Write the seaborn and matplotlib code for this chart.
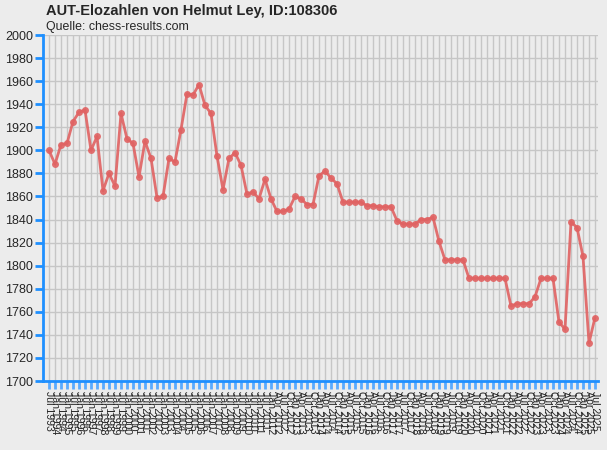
from matplotlib import pyplot as plt
import seaborn as sns
import pandas as pd

# list dates: half-yearly until 2011, quarterly from 2012
dates = []
for year in range(1993, 2012):
    if year > 1993:
        dates.append(f'Jan {year}')
    dates.append(f'Jul {year}')
for year in range(2012, 2026):
    for m in ['Jan', 'Apr', 'Jul', 'Oct']:
        if year == 2025 and m == 'Oct':
            break
        dates.append(f'{m} {year}')

elo = [1900, 1888, 1905, 1906, 1925, 1933, 1935, 1900, 1912, 1865,
       1880, 1869, 1932, 1910, 1906, 1877, 1908, 1893, 1859, 1860,
       1893, 1890, 1918, 1949, 1948, 1957, 1939, 1932, 1895, 1866,
       1893, 1898, 1887, 1862, 1864, 1858, 1875, 1858, 1847, 1847,
       1849, 1860, 1858, 1853, 1853, 1878, 1882, 1876, 1871, 1855,
       1855, 1855, 1855, 1852, 1852, 1851, 1851, 1851, 1839, 1836,
       1836, 1836, 1840, 1840, 1842, 1821, 1805, 1805, 1805, 1805,
       1789, 1789, 1789, 1789, 1789, 1789, 1789, 1765, 1767, 1767,
       1767, 1773, 1789, 1789, 1789, 1751, 1745, 1838, 1833, 1808,
       1733, 1755]

df = pd.DataFrame({'idx': range(len(elo)), 'elo': elo})

bg = '#ececec'
blue = '#1e8fff'
sns.set_style('whitegrid', {'axes.facecolor': bg, 'figure.facecolor': bg,
                            'grid.color': '#c6c6c6'})
plt.rcParams['font.family'] = ['Liberation Sans', 'DejaVu Sans']

fig = plt.figure(figsize=(6.07, 4.5), dpi=100)
ax = fig.add_axes([43 / 607, 1 - 381 / 450, 555 / 607, 346 / 450])

sns.lineplot(data=df, x='idx', y='elo', ax=ax, color='#e06262', linewidth=2,
             marker='o', markersize=5, markeredgewidth=0, alpha=0.9)

ax.set_xlim(-1, 91.5)
ax.set_ylim(1700, 2000)
ax.set_yticks(range(1700, 2001, 20))
ax.set_xticks(range(len(dates)))
ax.set_xticklabels(dates, rotation=-90, fontsize=7.6, va='top', ha='center')
ax.tick_params(axis='y', labelsize=9, length=6, width=2, color=blue, pad=1, left=True)
ax.tick_params(axis='x', length=6, width=2, color='#5aaaff', pad=1, bottom=True)
ax.grid(True, color='#c6c6c6', linewidth=1)
ax.set_xlabel('')
ax.set_ylabel('')

for side in ['top', 'right']:
    ax.spines[side].set_visible(False)
for side in ['left', 'bottom']:
    ax.spines[side].set_color(blue)
    ax.spines[side].set_linewidth(2)

fig.text(46 / 607, 1 - 11 / 450, 'AUT-Elozahlen von Helmut Ley, ID:108306',
         fontsize=10.5, fontweight='bold', va='center')
fig.text(46 / 607, 1 - 27 / 450, 'Quelle: chess-results.com',
         fontsize=8.9, va='center')

plt.savefig('out.png', dpi=100)
